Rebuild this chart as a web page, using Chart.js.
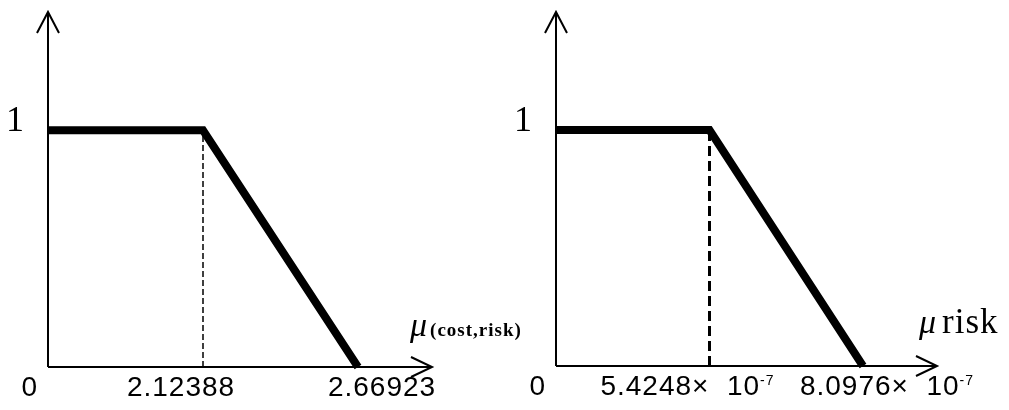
<!DOCTYPE html>
<html>
<head>
<meta charset="utf-8">
<script src="https://cdn.jsdelivr.net/npm/chart.js@4.4.0/dist/chart.umd.min.js"></script>
<style>
body{margin:0;background:#fff;}
#wrap{position:relative;width:1009px;height:410px;}
.box{position:absolute;top:0;height:410px;}
</style>
</head>
<body>
<div id="wrap">
  <div class="box" style="left:0;width:560px"><canvas id="c1"></canvas></div>
  <div class="box" style="left:505px;width:504px"><canvas id="c2"></canvas></div>
</div>
<script>
// breakpoints of the two membership functions
var costPoints=["0","2.12388","2.66923"];
var costMembership=[1,1,0];
var riskPoints=["0","5.4248","8.0976"];
var riskExponent="-7";
var riskMembership=[1,1,0];
var yTicks=[1];

function drawAxes(chart){
  var ctx=chart.ctx, a=chart.chartArea;
  var x0=chart.scales.x.getPixelForValue(0);
  var y0=chart.scales.y.getPixelForValue(0);
  var xEnd=a.right+74, yTop=a.top;
  ctx.save();
  ctx.strokeStyle="#000";
  ctx.lineWidth=2;
  ctx.beginPath();
  ctx.moveTo(x0,y0); ctx.lineTo(x0,yTop);
  ctx.moveTo(x0,y0); ctx.lineTo(xEnd,y0);
  ctx.moveTo(x0-11,yTop+21); ctx.lineTo(x0,yTop); ctx.lineTo(x0+11,yTop+21);
  ctx.moveTo(xEnd-21,y0-10); ctx.lineTo(xEnd,y0); ctx.lineTo(xEnd-21,y0+10);
  ctx.stroke();
  ctx.restore();
}

function drawLabels(chart,texts,sup,title){
  var ctx=chart.ctx, xs=chart.scales.x, ys=chart.scales.y, a=chart.chartArea;
  var y0=ys.getPixelForValue(0);
  var tickFont="28px 'Liberation Sans'", supFont="14px 'Liberation Sans'";
  ctx.save();
  ctx.fillStyle="#000";
  ctx.textBaseline="alphabetic";
  ctx.font="36px 'Liberation Serif'";
  ctx.textAlign="right";
  yTicks.forEach(function(v){
    ctx.fillText(String(v), a.left-24, ys.getPixelForValue(v)+1);
  });
  ctx.textAlign="left";
  texts.forEach(function(t,i){
    var px=xs.getPixelForValue(i);
    ctx.font=tickFont;
    ctx.letterSpacing="1px";
    var w=ctx.measureText(t).width, ws=0;
    var hasSup=(sup && i>0);
    if(hasSup){
      ctx.font=supFont;
      ws=ctx.measureText(sup).width;
    }
    var total=w+ws, left;
    if(i==0) left=px-10-total;
    else if(i==1) left=px-22-total/2;
    else left=px+24-total/2;
    ctx.font=tickFont;
    ctx.fillText(t,left,y0+29);
    if(hasSup){
      ctx.font=supFont;
      ctx.fillText(sup,left+w,y0+19);
    }
  });
  // axis title
  var tx=a.right+title.dx, ty=y0+title.dy;
  ctx.letterSpacing="0px";
  ctx.font="italic 34px 'Liberation Serif'";
  ctx.fillText("\u03bc",tx,ty);
  var mw=ctx.measureText("\u03bc").width;
  ctx.font=title.font;
  ctx.letterSpacing=title.spacing;
  ctx.fillText(title.text,tx+mw+title.gap,ty);
  ctx.restore();
}

function makeChart(id,points,membership,texts,sup,pad,dash,title){
  var ctx=document.getElementById(id).getContext("2d");
  return new Chart(ctx,{
    type:"line",
    data:{
      labels:points,
      datasets:[
        {
          data:points.map(function(p,i){return {x:p,y:membership[i]};}),
          borderColor:"#000", borderWidth:8, borderJoinStyle:"miter",
          borderCapStyle:"butt", pointRadius:0, tension:0, clip:false
        },
        {
          data:[{x:points[1],y:0},{x:points[1],y:membership[1]}],
          borderColor:"#000", borderWidth:dash.width, borderDash:dash.pattern,
          pointRadius:0, clip:false
        }
      ]
    },
    options:{
      responsive:true, maintainAspectRatio:false, animation:false,
      events:[],
      layout:{padding:pad},
      plugins:{legend:{display:false}, tooltip:{enabled:false}},
      scales:{
        x:{type:"category", display:false, offset:false},
        y:{type:"linear", display:false, min:0, max:1.5}
      }
    },
    plugins:[{
      id:"axesDraw",
      beforeDatasetsDraw:function(c){drawAxes(c);},
      afterDraw:function(c){drawLabels(c,texts,sup,title);}
    }]
  });
}

window.onload=function(){
  makeChart("c1",costPoints,costMembership,costPoints,null,
    {left:48,right:202,top:12,bottom:43},
    {width:1.5,pattern:[6,3]},
    {dx:52,dy:-31,gap:3,text:"(cost,risk)",font:"bold 19px 'Liberation Serif'",spacing:"1px"});
  var riskTexts=riskPoints.map(function(p,i){return i==0?p:p+"\u00d7  10";});
  makeChart("c2",riskPoints,riskMembership,riskTexts,riskExponent,
    {left:51,right:146,top:12,bottom:44},
    {width:3,pattern:[10,5]},
    {dx:56,dy:-33,gap:6,text:"risk",font:"35px 'Liberation Serif'",spacing:"1px"});
};
</script>
</body>
</html>
